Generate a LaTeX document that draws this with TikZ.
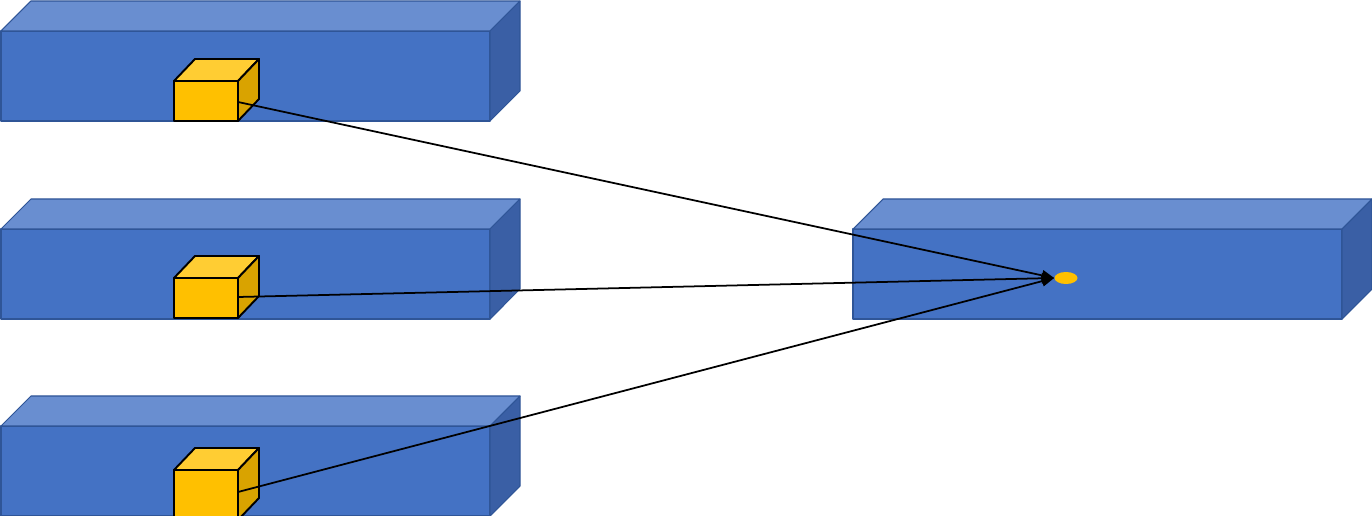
\documentclass[tikz,border=0pt]{standalone}
\usetikzlibrary{shapes.geometric,arrows.meta}
\definecolor{frontblue}{HTML}{4472C4}
\definecolor{topblue}{HTML}{698ED0}
\definecolor{sideblue}{HTML}{3A5FA5}
\definecolor{edgeblue}{HTML}{2F5597}
\definecolor{frontgold}{HTML}{FFC000}
\definecolor{topgold}{HTML}{FFCD33}
\definecolor{sidegold}{HTML}{D9A300}
\tikzset{
  slabedge/.style={draw=edgeblue, line width=0.6pt, line join=round},
  cubeedge/.style={draw=black, line width=1.1pt, line join=round},
  link/.style={draw=black, line width=1pt, -{Triangle[length=7pt,width=6pt]}},
  pics/slab/.style={code={
    \path[slabedge, fill=frontblue] (0,0) rectangle (489,90);
    \path[slabedge, fill=topblue] (0,0) -- (30,-30) -- (519,-30) -- (489,0) -- cycle;
    \path[slabedge, fill=sideblue] (489,0) -- (519,-30) -- (519,60) -- (489,90) -- cycle;
  }},
  pics/goldcube/.style={code={
    \path[cubeedge, fill=frontgold] (0,0) rectangle (64,#1);
    \path[cubeedge, fill=topgold] (0,0) -- (21,-22) -- (85,-22) -- (64,0) -- cycle;
    \path[cubeedge, fill=sidegold] (64,0) -- (85,-22) -- (85,#1-22) -- (64,#1) -- cycle;
  }},
  pics/goldcube/.default=40
}
\begin{document}
\begin{tikzpicture}[x=0.02cm, y=-0.02cm]
\useasboundingbox (0,0) rectangle (1372,516);
% slabs
\pic at (1,31) {slab};
\pic at (1,229) {slab};
\pic at (1,426) {slab};
\pic at (853,229) {slab};
% cubes
\pic at (174,81) {goldcube};
\pic at (174,278) {goldcube};
\pic at (174,470) {goldcube=50};
% start points on the cubes
\coordinate (s1) at (238,102);
\coordinate (s2) at (238,297);
\coordinate (s3) at (238,492);
% target dot
\node[ellipse, fill=frontgold, minimum width=0.46cm, minimum height=0.24cm, inner sep=0pt] (dot) at (1066,278) {};
\draw[link] (s1) -- (dot.west);
\draw[link] (s2) -- (dot.west);
\draw[link] (s3) -- (dot.west);
\end{tikzpicture}
\end{document}
